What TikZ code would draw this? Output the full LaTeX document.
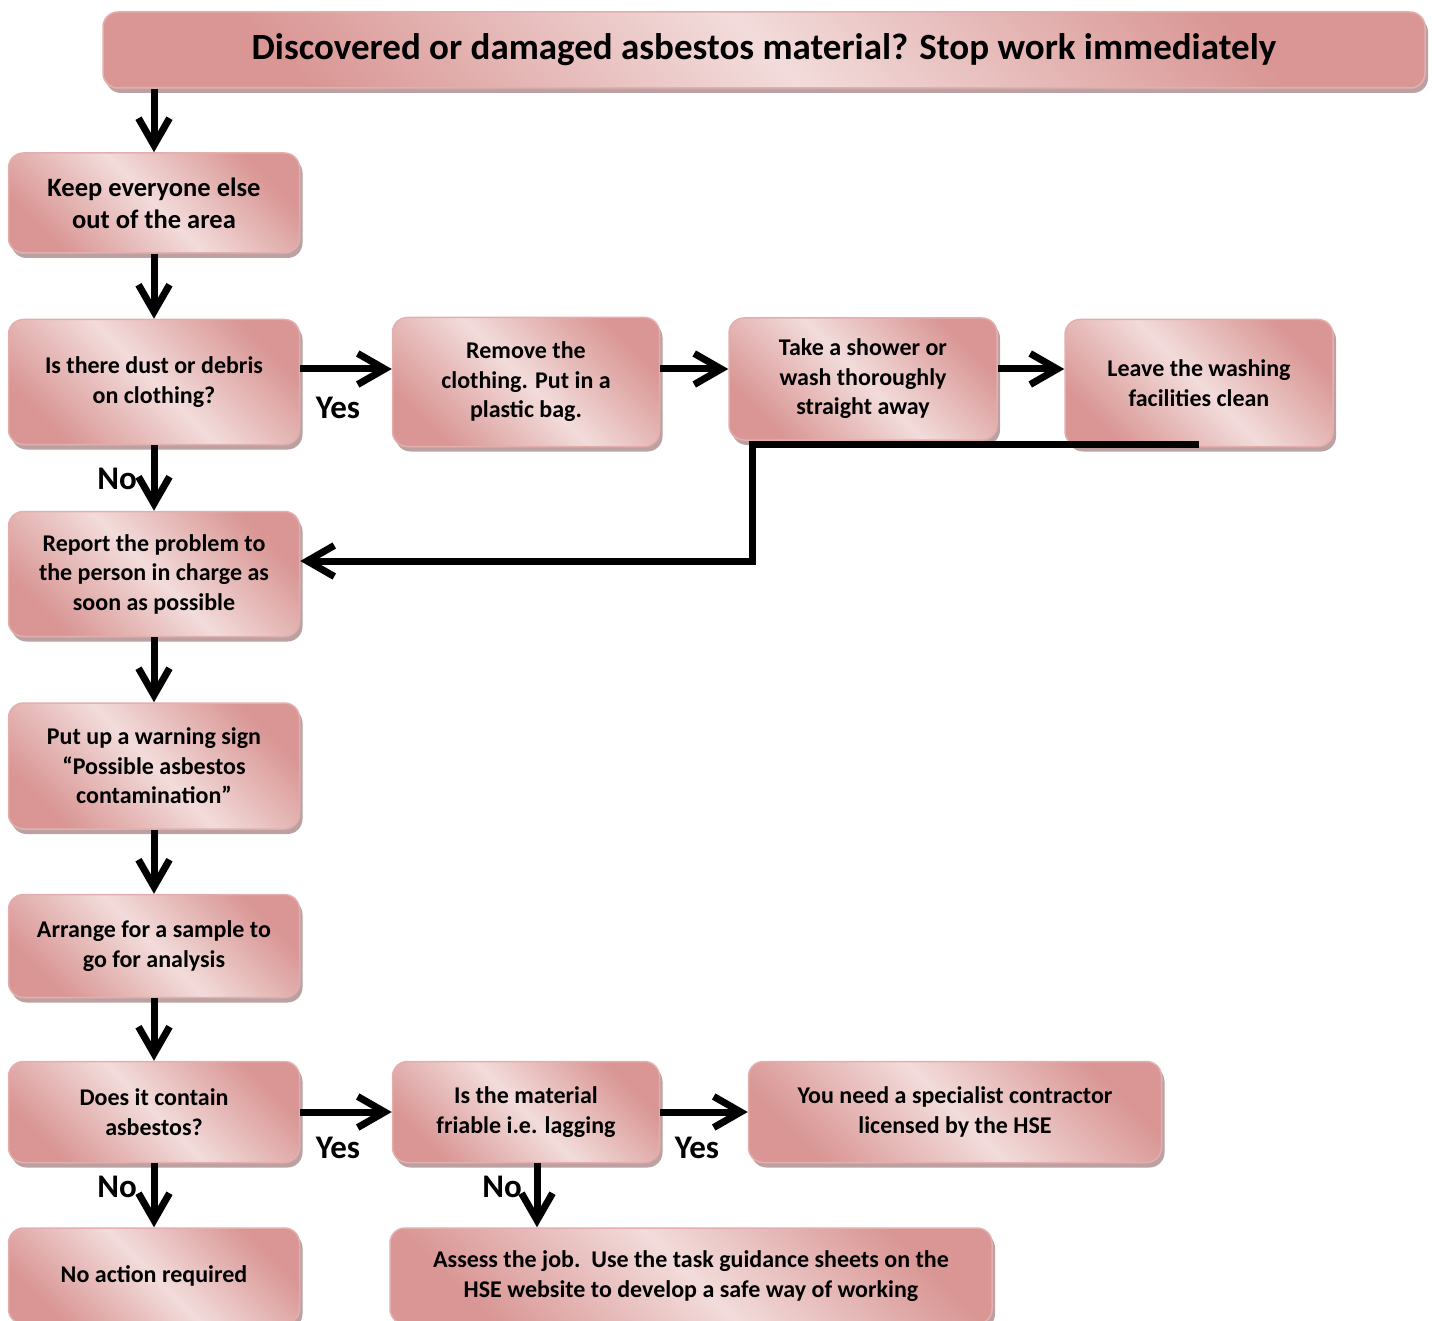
\documentclass[tikz,border=0pt]{standalone}
\usepackage{fontspec}
\setmainfont{Carlito}
\usetikzlibrary{positioning, arrows.meta, shadows}

\definecolor{boxdark}{HTML}{D99694}
\definecolor{boxlight}{HTML}{F2DCDB}
\definecolor{boxedge}{HTML}{E3AFAE}
\definecolor{shadowc}{HTML}{B59798}

\tikzset{
  stepbox/.style={rounded corners=15pt, draw=boxedge, line width=1.5pt,
    left color=boxdark, right color=boxdark, middle color=boxlight, shading angle=-45,
    drop shadow={shadow xshift=3pt, shadow yshift=-5pt, fill=shadowc, opacity=.9},
    inner sep=0pt, align=center, font=\fontsize{24}{29.5}\selectfont\bfseries},
  flow/.style={line width=7pt, -{Straight Barb[length=27pt,width=31pt]}},
  answer/.style={font=\fontsize{33}{36}\selectfont\bfseries}
}

\begin{document}
\begin{tikzpicture}[x=1pt, y=-1pt]
    \useasboundingbox (0,0) rectangle (1432,1321);

    % Boxes
    \node[stepbox, minimum width=1322pt, minimum height=76pt,
          font=\fontsize{37}{40}\selectfont\bfseries] (title) at (764,50)
          {Discovered or damaged asbestos material? Stop work immediately};
    \node[stepbox, minimum width=291pt, minimum height=100pt,
          font=\fontsize{26.5}{32}\selectfont\bfseries] (keep) at (154,203) {Keep everyone else\\out of the area};
    \node[stepbox, minimum width=291pt, minimum height=125pt] (dust) at (154,382) {Is there dust or debris\\on clothing?};
    \node[stepbox, minimum width=267pt, minimum height=129pt] (remove) at (526,382) {Remove the\\clothing. Put in a\\plastic bag.};
    \node[stepbox, minimum width=268pt, minimum height=122pt] (shower) at (863,379) {Take a shower or\\wash thoroughly\\straight away};
    \node[stepbox, minimum width=268pt, minimum height=127pt] (leave) at (1199,383) {Leave the washing\\facilities clean};
    \node[stepbox, minimum width=291pt, minimum height=125pt] (report) at (154,574) {Report the problem to\\the person in charge as\\soon as possible};
    \node[stepbox, minimum width=291pt, minimum height=126pt] (warning) at (154,766) {Put up a warning sign\\``Possible asbestos\\contamination''};
    \node[stepbox, minimum width=291pt, minimum height=103pt] (arrange) at (154,946) {Arrange for a sample to\\go for analysis};
    \node[stepbox, minimum width=291pt, minimum height=101pt] (contain) at (154,1112) {Does it contain\\asbestos?};
    \node[stepbox, minimum width=267pt, minimum height=101pt] (friable) at (526,1112) {Is the material\\friable i.e. lagging};
    \node[stepbox, minimum width=413pt, minimum height=101pt] (specialist) at (955,1112) {You need a specialist contractor\\licensed by the HSE};
    \node[stepbox, minimum width=291pt, minimum height=96pt] (noaction) at (154,1276) {No action required};
    \node[stepbox, minimum width=602pt, minimum height=96pt] (assess) at (691,1276) {Assess the job.\ \ Use the task guidance sheets on the\\HSE website to develop a safe way of working};

    % Connectors
    \draw[flow] (title.south -| keep.north) -- (keep.north);
    \draw[flow] (keep) -- (dust);
    \draw[flow] ([yshift=13pt]dust.east) -- ([yshift=13pt]remove.west);
    \draw[flow] ([yshift=13pt]remove.east) -- ([yshift=13pt]remove.east -| shower.west);
    \draw[flow] ([yshift=10pt]shower.east) -- ([yshift=10pt]shower.east -| leave.west);
    \coordinate (turn) at (752,444);
    \draw[flow] (turn -| leave.south) -- (turn) |- ([yshift=13pt]report.east);
    \draw[flow] (dust) -- (report);
    \draw[flow] (report) -- (warning);
    \draw[flow] (warning) -- (arrange);
    \draw[flow] (arrange) -- (contain);
    \draw[flow] (contain) -- (friable);
    \draw[flow] (friable) -- (specialist);
    \draw[flow] (contain) -- (noaction);
    \draw[flow] ([xshift=11pt]friable.south) -- ([xshift=11pt]friable.south |- assess.north);

    % Answers
    \node[answer] (yes1) at (338,408) {Yes};
    \node[answer] (no1) at (117,479) {No};
    \node[answer] (yes2) at (338,1148) {Yes};
    \node[answer] (yes3) at (697,1148) {Yes};
    \node[answer] (no2) at (117,1187) {No};
    \node[answer] (no3) at (502,1187) {No};
\end{tikzpicture}
\end{document}
